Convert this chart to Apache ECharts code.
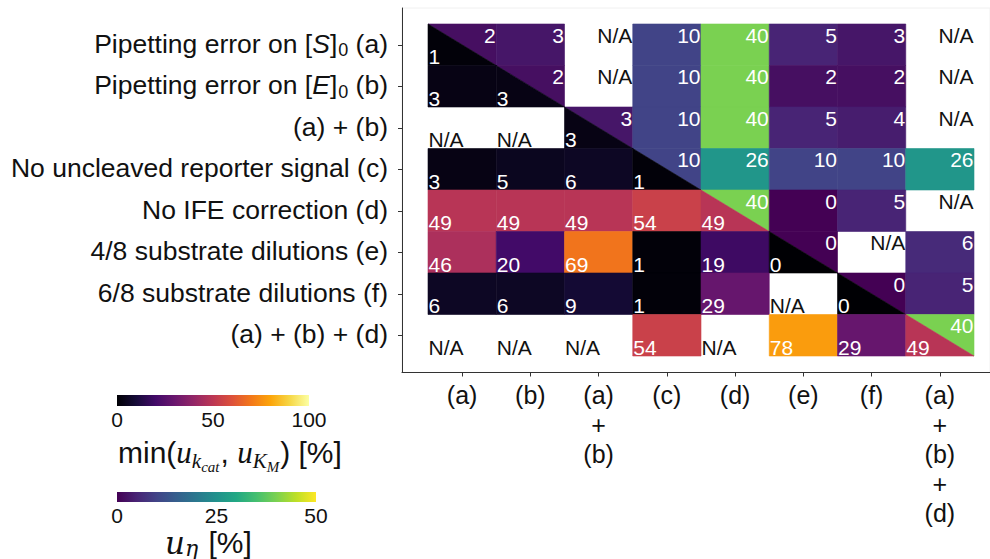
<!DOCTYPE html>
<html>
<head>
<meta charset="utf-8">
<script src="https://cdn.jsdelivr.net/npm/echarts@6/dist/echarts.min.js"></script>
<style>
  html, body { margin: 0; padding: 0; background: #fff; overflow: hidden; }
  #chart { width: 990px; height: 559px; }
</style>
</head>
<body>
<div id="chart"></div>
<script>
// Column (x) and row (y) labels of the scenario matrix
const colLabels = ['(a)', '(b)', '(a)\n+\n(b)', '(c)', '(d)', '(e)', '(f)', '(a)\n+\n(b)\n+\n(d)'];
const rowLabels = [
  '{t|Pipetting error on [}{i|S}{t|]}{s|0}{t| (a)}',
  '{t|Pipetting error on [}{i|E}{t|]}{s|0}{t| (b)}',
  '{t|(a) + (b)}',
  '{t|No uncleaved reporter signal (c)}',
  '{t|No IFE correction (d)}',
  '{t|4/8 substrate dilutions (e)}',
  '{t|6/8 substrate dilutions (f)}',
  '{t|(a) + (b) + (d)}'
];

// u_eta [%] : upper half of the matrix, each row starts at its diagonal cell (null = N/A)
const uEtaRows = [
  [2, 3, null, 10, 40, 5, 3, null],
  [2, null, 10, 40, 2, 2, null],
  [3, 10, 40, 5, 4, null],
  [10, 26, 10, 10, 26],
  [40, 0, 5, null],
  [0, null, 6],
  [0, 5],
  [40]
];

// min(u_kcat, u_KM) [%] : lower half of the matrix, each row ends at its diagonal cell (null = N/A)
const minURows = [
  [1],
  [3, 3],
  [null, null, 3],
  [3, 5, 6, 1],
  [49, 49, 49, 54, 49],
  [46, 20, 69, 1, 19, 0],
  [6, 6, 9, 1, 29, null, 0],
  [null, null, null, 54, null, 78, 29, 49]
];

// Colour-bar ranges and tick steps
const etaRange = [0, 50], etaStep = 25;
const minRange = [0, 100], minStep = 50;

// Colormaps
const VIRIDIS = ['#440154', '#482475', '#414487', '#355f8d', '#2a788e', '#21918c',
                 '#22a884', '#44bf70', '#7ad151', '#bddf26', '#fde725'];
const INFERNO = ['#000004', '#160b39', '#420a68', '#6a176e', '#932667', '#bc3754',
                 '#dd513a', '#f37819', '#fca50a', '#f6d746', '#fcffa4'];

// Build series data
const etaData = [], minData = [], naData = [];
uEtaRows.forEach((vals, r) => vals.forEach((v, k) => {
  const c = r + k;
  if (v === null) naData.push([c, r, 1]); else etaData.push([c, r, v]);
}));
minURows.forEach((vals, r) => vals.forEach((v, c) => {
  if (v === null) naData.push([c, r, 0]); else minData.push([c, r, v]);
}));

const SANS = '"Liberation Sans", Arial, Helvetica, sans-serif';
const MATH = '"Liberation Serif", "DejaVu Serif", serif';
const MATH_WIDE = '"DejaVu Serif", "Liberation Serif", serif';
const INK = '#111111';
const FS_CELL = 21;

function cellBox(api) {
  const col = api.value(0), row = api.value(1);
  const c = api.coord([col, row]);
  const s = api.size([1, 1]);
  return { col, row, x0: c[0] - s[0] / 2, x1: c[0] + s[0] / 2, y0: c[1] - s[1] / 2, y1: c[1] + s[1] / 2 };
}

function labelEl(b, upper, text, color) {
  return {
    type: 'text',
    style: upper
      ? { x: b.x1 - 0.5, y: b.y0 + 0.5, text, fill: color, font: FS_CELL + 'px ' + SANS, align: 'right', verticalAlign: 'top' }
      : { x: b.x0 + 0.5, y: b.y1 + 1.5, text, fill: color, font: FS_CELL + 'px ' + SANS, align: 'left', verticalAlign: 'bottom' }
  };
}

function makeCellRenderer(upper) {
  return function (params, api) {
    const b = cellBox(api);
    const val = api.value(2);
    let pts;
    if (b.col === b.row) {
      pts = upper ? [[b.x0, b.y0], [b.x1, b.y0], [b.x1, b.y1]]
                  : [[b.x0, b.y0], [b.x1, b.y1], [b.x0, b.y1]];
    } else {
      pts = [[b.x0, b.y0], [b.x1, b.y0], [b.x1, b.y1], [b.x0, b.y1]];
    }
    const color = api.visual('color');
    return {
      type: 'group',
      children: [
        { type: 'polygon', shape: { points: pts }, style: { fill: color, stroke: color, lineWidth: 0.6 } },
        labelEl(b, upper, String(val), '#ffffff')
      ]
    };
  };
}

function renderNA(params, api) {
  const b = cellBox(api);
  return labelEl(b, api.value(2) === 1, 'N/A', INK);
}

function makeBarRenderer(colors) {
  return function (params, api) {
    const p0 = api.coord([api.value(0), api.value(1)]);
    const p1 = api.coord([api.value(2), api.value(3)]);
    const stops = colors.map((c, i) => ({ offset: i / (colors.length - 1), color: c }));
    return {
      type: 'rect',
      shape: { x: p0[0], y: p1[1], width: p1[0] - p0[0], height: p0[1] - p1[1] },
      style: { fill: new echarts.graphic.LinearGradient(0, 0, 1, 0, stops) }
    };
  };
}

const chart = echarts.init(document.getElementById('chart'), null, { renderer: 'svg' });

const hiddenValue = (gi, extra) => Object.assign({
  type: 'value', gridIndex: gi, min: 0, max: 1,
  axisLabel: { show: false }, axisTick: { show: false }, splitLine: { show: false }
}, extra || {});

const frameLine = { show: true, onZero: false, lineStyle: { color: '#333', width: 1 } };
const barAxis = (gi, range, step, margin) => ({
  type: 'value', gridIndex: gi, min: range[0], max: range[1], interval: step,
  axisLine: { show: false }, axisTick: { show: false }, splitLine: { show: false },
  axisLabel: { fontSize: 21, lineHeight: 20, margin, color: INK, fontFamily: SANS }
});

chart.setOption({
  animation: false,
  textStyle: { fontFamily: SANS },
  grid: [
    // panel frame
    { left: 402, right: 0, top: 8, bottom: 186.5, show: true, borderColor: '#f0f0f0', borderWidth: 1 },
    // matrix cells
    { left: 428, right: 16, top: 24, bottom: 203 },
    // colour bars
    { left: 117, width: 192, top: 395, height: 11 },
    { left: 117, width: 199, top: 492, height: 10 }
  ],
  xAxis: [
    hiddenValue(0, { axisLine: frameLine }),
    {
      type: 'category', gridIndex: 1, data: colLabels, position: 'bottom', offset: 372.5 - 356,
      axisLine: { show: false },
      axisTick: { show: true, alignWithLabel: true, length: 4, lineStyle: { color: '#333' } },
      axisLabel: { fontSize: 25, lineHeight: 29.5, margin: 8, color: INK, interval: 0, fontFamily: SANS },
      splitLine: { show: false }
    },
    barAxis(2, minRange, minStep, 3),
    barAxis(3, etaRange, etaStep, 3)
  ],
  yAxis: [
    hiddenValue(0, { axisLine: frameLine }),
    {
      type: 'category', gridIndex: 1, data: rowLabels, inverse: true, offset: 428 - 402,
      axisLine: { show: false },
      axisTick: { show: true, alignWithLabel: true, length: 4, lineStyle: { color: '#333' } },
      axisLabel: {
        margin: 14, color: INK, interval: 0,
        rich: {
          t: { fontSize: 26.5, fontFamily: SANS, color: INK, lineHeight: 29, verticalAlign: 'top' },
          i: { fontSize: 26.5, fontFamily: SANS, fontStyle: 'italic', color: INK, lineHeight: 29, verticalAlign: 'top' },
          s: { fontSize: 18, fontFamily: SANS, color: INK, lineHeight: 20, verticalAlign: 'top', padding: [11, 0, 0, 1] }
        }
      },
      splitLine: { show: false }
    },
    hiddenValue(2, { show: false }),
    hiddenValue(3, { show: false })
  ],
  visualMap: [
    { type: 'continuous', show: false, seriesIndex: 0, dimension: 2, min: etaRange[0], max: etaRange[1], inRange: { color: VIRIDIS } },
    { type: 'continuous', show: false, seriesIndex: 1, dimension: 2, min: minRange[0], max: minRange[1], inRange: { color: INFERNO } }
  ],
  series: [
    { type: 'custom', name: 'u_eta', xAxisIndex: 1, yAxisIndex: 1, data: etaData, renderItem: makeCellRenderer(true), silent: true },
    { type: 'custom', name: 'min_u', xAxisIndex: 1, yAxisIndex: 1, data: minData, renderItem: makeCellRenderer(false), silent: true },
    { type: 'custom', name: 'na', xAxisIndex: 1, yAxisIndex: 1, data: naData, renderItem: renderNA, silent: true },
    { type: 'custom', name: 'bar_min', xAxisIndex: 2, yAxisIndex: 2, data: [[minRange[0], 0, minRange[1], 1]], renderItem: makeBarRenderer(INFERNO), silent: true },
    { type: 'custom', name: 'bar_eta', xAxisIndex: 3, yAxisIndex: 3, data: [[etaRange[0], 0, etaRange[1], 1]], renderItem: makeBarRenderer(VIRIDIS), silent: true }
  ],
  graphic: [
    {
      type: 'text', left: 118, top: 437,
      style: {
        text: '{m|min(}{u|u}{k|k}{c|cat}{m|, }{u|u}{k|K}{c|M}{m|) [%]}',
        rich: {
          m: { fontSize: 30, fontFamily: SANS, lineHeight: 34, verticalAlign: 'top', fill: INK },
          u: { fontSize: 31, fontFamily: MATH, fontStyle: 'italic', lineHeight: 34, verticalAlign: 'top', fill: INK },
          k: { fontSize: 21, fontFamily: MATH, fontStyle: 'italic', lineHeight: 22, verticalAlign: 'top', padding: [13, 0, 0, 0], fill: INK },
          c: { fontSize: 15, fontFamily: MATH, fontStyle: 'italic', lineHeight: 16, verticalAlign: 'top', padding: [22, 1, 0, 0], fill: INK }
        }
      }
    },
    {
      type: 'text', left: 165, top: 527,
      style: {
        text: '{u|u}{k|η}{m| [%]}',
        rich: {
          m: { fontSize: 30, fontFamily: SANS, lineHeight: 30, verticalAlign: 'top', fill: INK },
          u: { fontSize: 31, fontFamily: MATH_WIDE, fontStyle: 'italic', lineHeight: 30, verticalAlign: 'top', fill: INK },
          k: { fontSize: 22, fontFamily: MATH_WIDE, fontStyle: 'italic', lineHeight: 20, verticalAlign: 'top', padding: [10, 2, 0, 0], fill: INK }
        }
      }
    }
  ]
});
</script>
</body>
</html>
